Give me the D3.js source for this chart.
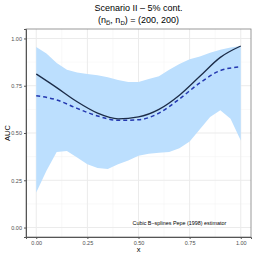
<!DOCTYPE html>
<html>
<head>
<meta charset="utf-8">
<script src="https://cdn.jsdelivr.net/npm/d3@7"></script>
<style>
  body { margin: 0; background: #fff; }
  svg { font-family: "Liberation Sans", Arial, sans-serif; }
</style>
</head>
<body>
<div class="chart"></div>
<script>
// Data
var bandX = [0, 0.05, 0.1, 0.15, 0.2, 0.25, 0.3, 0.35, 0.4, 0.45, 0.5,
             0.55, 0.6, 0.65, 0.7, 0.75, 0.8, 0.85, 0.9, 0.95, 1];
var bandUpper = [0.955, 0.92, 0.87, 0.835, 0.82, 0.812, 0.805, 0.795, 0.78, 0.77, 0.77,
                 0.785, 0.80, 0.835, 0.865, 0.89, 0.905, 0.925, 0.94, 0.952, 0.96];
var bandLower = [0.185, 0.30, 0.40, 0.405, 0.37, 0.335, 0.315, 0.31, 0.335, 0.355, 0.38,
                 0.39, 0.395, 0.40, 0.42, 0.455, 0.52, 0.585, 0.62, 0.575, 0.46];

var lineX = [0, 0.1, 0.2, 0.3, 0.4, 0.5, 0.6, 0.7, 0.8, 0.9, 1];
var trueAUC = [0.812, 0.74, 0.665, 0.605, 0.575, 0.585, 0.625, 0.70, 0.80, 0.90, 0.96];
var estAUC = [0.697, 0.675, 0.63, 0.59, 0.567, 0.57, 0.605, 0.68, 0.765, 0.83, 0.85];

var xTicks = [0, 0.25, 0.5, 0.75, 1];
var yTicks = [0, 0.25, 0.5, 0.75, 1];

var svgWidth = 254;
var svgHeight = 254;

var margin = { top: 29, right: 3, bottom: 17, left: 26 };
var width = svgWidth - margin.left - margin.right;
var height = svgHeight - margin.top - margin.bottom;

var svg = d3.select(".chart")
  .append("svg")
  .attr("width", svgWidth)
  .attr("height", svgHeight);

var chartGroup = svg.append("g")
  .attr("transform", `translate(${margin.left}, ${margin.top})`);

// 5% expansion like ggplot
var xScale = d3.scaleLinear().domain([-0.05, 1.05]).range([0, width]);
var yScale = d3.scaleLinear().domain([-0.05, 1.05]).range([height, 0]);

// grid
var minorX = [0.125, 0.375, 0.625, 0.875];
var minorY = [0.125, 0.375, 0.625, 0.875];

chartGroup.selectAll(".minx").data(minorX).enter().append("line")
  .attr("x1", d => xScale(d)).attr("x2", d => xScale(d))
  .attr("y1", 0).attr("y2", height)
  .attr("stroke", "#f2f2f2").attr("stroke-width", 0.5);
chartGroup.selectAll(".miny").data(minorY).enter().append("line")
  .attr("y1", d => yScale(d)).attr("y2", d => yScale(d))
  .attr("x1", 0).attr("x2", width)
  .attr("stroke", "#f2f2f2").attr("stroke-width", 0.5);
chartGroup.selectAll(".majx").data(xTicks).enter().append("line")
  .attr("x1", d => xScale(d)).attr("x2", d => xScale(d))
  .attr("y1", 0).attr("y2", height)
  .attr("stroke", "#ebebeb").attr("stroke-width", 1);
chartGroup.selectAll(".majy").data(yTicks).enter().append("line")
  .attr("y1", d => yScale(d)).attr("y2", d => yScale(d))
  .attr("x1", 0).attr("x2", width)
  .attr("stroke", "#ebebeb").attr("stroke-width", 1);

// ribbon
var bandData = bandX.map((x, i) => ({ x: x, lo: bandLower[i], hi: bandUpper[i] }));
chartGroup.append("path")
  .datum(bandData)
  .attr("fill", "#bcdffe")
  .attr("d", d3.area()
    .x(d => xScale(d.x))
    .y0(d => yScale(d.lo))
    .y1(d => yScale(d.hi)));

// lines
var lineGen = d3.line()
  .x(d => xScale(d.x))
  .y(d => yScale(d.y))
  .curve(d3.curveMonotoneX);

chartGroup.append("path")
  .datum(lineX.map((x, i) => ({ x: x, y: estAUC[i] })))
  .attr("fill", "none")
  .attr("stroke", "#2438b0")
  .attr("stroke-width", 1.5)
  .attr("stroke-dasharray", "4,3")
  .attr("d", lineGen);

chartGroup.append("path")
  .datum(lineX.map((x, i) => ({ x: x, y: trueAUC[i] })))
  .attr("fill", "none")
  .attr("stroke", "#1c2c48")
  .attr("stroke-width", 1.3)
  .attr("d", lineGen);

// panel border
chartGroup.append("rect")
  .attr("x", 0).attr("y", 0)
  .attr("width", width).attr("height", height)
  .attr("fill", "none")
  .attr("stroke", "#808080")
  .attr("stroke-width", 0.8);

// axes
var bottomAxis = d3.axisBottom(xScale).tickValues(xTicks)
  .tickFormat(d3.format(".2f")).tickSize(2).tickPadding(2);
var leftAxis = d3.axisLeft(yScale).tickValues(yTicks)
  .tickFormat(d3.format(".2f")).tickSize(2).tickPadding(2);

var xAxisG = chartGroup.append("g")
  .attr("transform", `translate(0, ${height})`)
  .call(bottomAxis);
var yAxisG = chartGroup.append("g").call(leftAxis);

[xAxisG, yAxisG].forEach(function(g) {
  g.select(".domain").attr("stroke", "#555").attr("stroke-width", 1);
  g.selectAll(".tick line").attr("stroke", "#555");
  g.selectAll(".tick text").attr("fill", "#4d4d4d").style("font-size", "5.5px")
    .style("font-family", "Liberation Sans, Arial, sans-serif");
});

// axis labels
chartGroup.append("text")
  .attr("transform", "rotate(-90)")
  .attr("x", -height / 2)
  .attr("y", -margin.left + 10)
  .attr("text-anchor", "middle")
  .style("font-size", "7.5px")
  .text("AUC");

chartGroup.append("text")
  .attr("x", width / 2)
  .attr("y", height + 15)
  .attr("text-anchor", "middle")
  .style("font-size", "7.5px")
  .text("x");

// annotation
chartGroup.append("text")
  .attr("x", xScale(0.70))
  .attr("y", yScale(0.015))
  .attr("text-anchor", "middle")
  .style("font-size", "5.4px")
  .text("Cubic B\u2212splines Pepe (1998) estimator");

// titles
svg.append("text")
  .attr("x", margin.left + width / 2)
  .attr("y", 11)
  .attr("text-anchor", "middle")
  .style("font-size", "9px")
  .text("Scenario II \u2013 5% cont.");

var sub = svg.append("text")
  .attr("x", margin.left + width / 2)
  .attr("y", 23)
  .attr("text-anchor", "middle")
  .style("font-size", "9px");
sub.append("tspan").text("(n");
sub.append("tspan").attr("dy", 2).style("font-size", "6px").text("D\u0305");
sub.append("tspan").attr("dy", -2).text(", n");
sub.append("tspan").attr("dy", 2).style("font-size", "6px").text("D");
sub.append("tspan").attr("dy", -2).text(") = (200, 200)");
</script>
</body>
</html>
